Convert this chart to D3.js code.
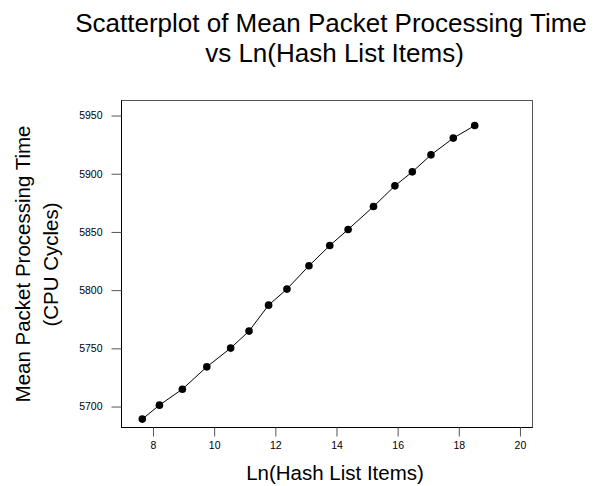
<!DOCTYPE html>
<html><head><meta charset="utf-8">
<script src="https://cdn.jsdelivr.net/npm/d3@7"></script>
<style>body{margin:0;background:#fff}svg{display:block}text{font-family:"Liberation Sans",Arial,sans-serif;fill:#000}</style>
</head><body><svg id="c" width="595" height="486"></svg>
<script>
const lnItems = [7.65, 8.21, 8.96, 9.76, 10.54, 11.14, 11.78, 12.38, 13.10, 13.78, 14.38, 15.21, 15.91, 16.48, 17.09, 17.82, 18.52];
const meanTime = [5689.2, 5701.2, 5714.9, 5734.1, 5750.2, 5764.8, 5787.1, 5800.9, 5820.9, 5838.3, 5852.1, 5871.8, 5889.6, 5901.6, 5916.2, 5930.6, 5941.4];
const xTicks = [8, 10, 12, 14, 16, 18, 20];
const yTicks = [5700, 5750, 5800, 5850, 5900, 5950];
const titleLines = ["Scatterplot of Mean Packet Processing Time", "vs Ln(Hash List Items)"];
const xLabel = "Ln(Hash List Items)";
const yLabelLines = ["Mean Packet Processing Time", "(CPU Cycles)"];

const svg = d3.select("#c");
const L = 121.5, R = 532.5, T = 100.5, B = 427.5;
const x = d3.scaleLinear().domain([6.97, 20.41]).range([L, R]);
const y = d3.scaleLinear().domain([5682, 5962.9]).range([B, T]);

svg.append("rect").attr("x", L).attr("y", T).attr("width", R - L).attr("height", B - T)
  .attr("fill", "none").attr("stroke", "#555").attr("stroke-width", 1);

const xa = svg.append("g").attr("transform", `translate(0,${B})`)
  .call(d3.axisBottom(x).tickValues(xTicks).tickSize(9).tickPadding(5).tickFormat(d3.format("d")));
const ya = svg.append("g").attr("transform", `translate(${L},0)`)
  .call(d3.axisLeft(y).tickValues(yTicks).tickSize(10).tickPadding(9).tickFormat(d3.format("d")));
[xa, ya].forEach(g => {
  g.select(".domain").attr("stroke", "#000");
  g.selectAll(".tick line").attr("stroke", "#555");
  g.selectAll(".tick text").attr("font-size", 10.5).attr("font-family", "Liberation Sans, Arial, sans-serif").attr("fill", "#000");
});
xa.select(".domain").attr("d", `M${L},0H${R}`);
ya.select(".domain").attr("d", `M0,${B}V${T}`);

const pts = lnItems.map((v, i) => [v, meanTime[i]]);
svg.append("path").datum(pts)
  .attr("fill", "none").attr("stroke", "#000").attr("stroke-width", 1)
  .attr("d", d3.line().x(d => x(d[0])).y(d => y(d[1])));
svg.append("g").selectAll("circle").data(pts).join("circle")
  .attr("cx", d => x(d[0])).attr("cy", d => y(d[1])).attr("r", 3.8).attr("fill", "#000");

svg.append("text").attr("x", 331).attr("y", 32).attr("text-anchor", "middle").attr("font-size", 26).text(titleLines[0]);
svg.append("text").attr("x", 334.5).attr("y", 62).attr("text-anchor", "middle").attr("font-size", 26).text(titleLines[1]);
svg.append("text").attr("x", 335).attr("y", 479.5).attr("text-anchor", "middle").attr("font-size", 20.5).text(xLabel);
svg.append("text").attr("transform", "translate(30,264) rotate(-90)").attr("text-anchor", "middle").attr("font-size", 20.5).text(yLabelLines[0]);
svg.append("text").attr("transform", "translate(57.5,264.5) rotate(-90)").attr("text-anchor", "middle").attr("font-size", 20.5).text(yLabelLines[1]);
</script></body></html>
